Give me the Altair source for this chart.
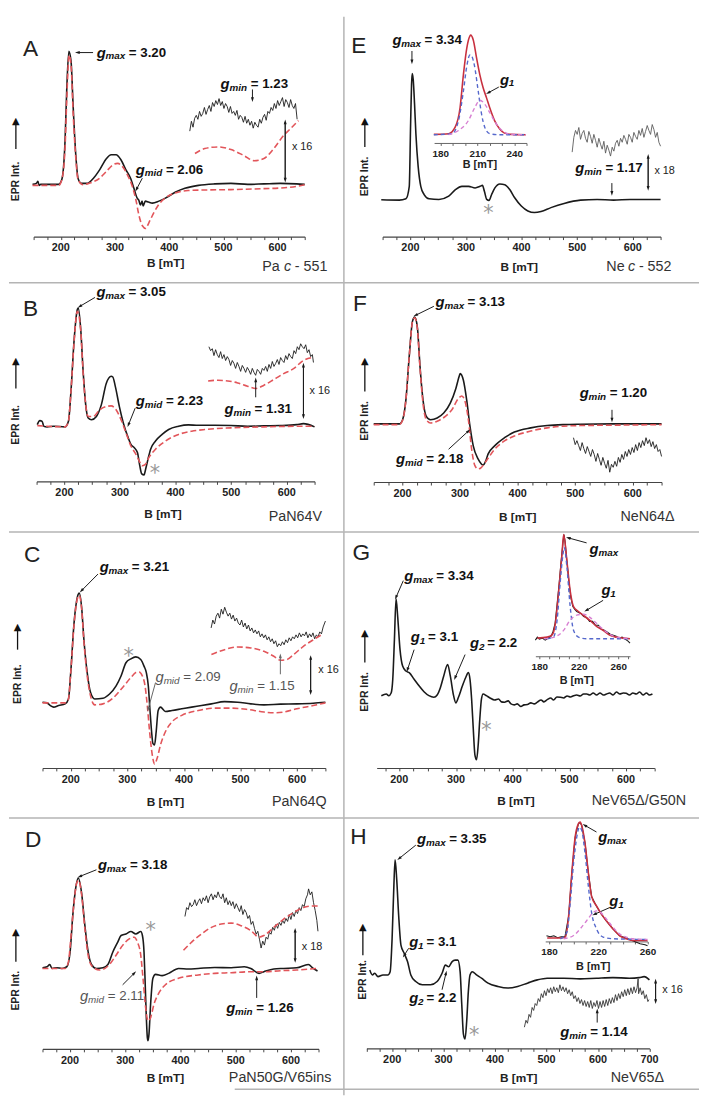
import math
import altair as alt
import pandas as pd

FONT = "Liberation Sans"
ONE = pd.DataFrame({"z": [0]})
K = "#1a1a1a"
GR = "#666666"
RED = "#e2555a"
FITRED = "#c8303f"
BLUE = "#5568cc"
PINK = "#d77fd2"
SEP = "#b4b4b4"

# ======================= DATA (B in mT, I in arbitrary units) =======================
# ---- A : Pa c-551
A_B = [148,155,158,160,163,169,196,202,208,211,215,219,223,228,232,238,248,260,272,284,293,302,311,320,329,335,341,344,347,350,352,356,362,369,381,393,411,429,454,484,514,545,575,605,635,650]
A_I = [0,1,3,-1,0,0,0,5,45,95,135,125,78,28,6,1,1,6,15,26,30,30,25,15,6,-4,-14,-16,-21,-17,-22,-17,-18,-19,-17,-14,-8,-4,-1,0.5,1,0,0.5,1,0.5,0]
A_SIM_B = [148,196,202,208,211,215.5,219,223,228,232,241.5,253.6,271.8,284,296,305,314,323,332,338.5,344.5,350.6,356.7,362.7,371.8,381,393,411,435,465.8,514,574.5,605,635,650]
A_SIM_I = [-1,-1,4.7,38,84.7,131,121,71,25,4.7,-0.3,1.3,6.3,13,19.7,21.3,18,9.7,-2,-15.3,-32,-42,-44.7,-38.7,-28.7,-20.3,-13.7,-8.7,-6.3,-5.7,-5.3,-4.3,-3.7,-2,-0.3]
A_X16_B = [438,441,444,447,450,453,456,459,462,465,468,471,474,477,480,483,486,489,492,495,498,501,504,507,510,513,516,519,522,525,528,531,534,537,540,543,546,549,552,555,558,561,564,567,570,573,576,579,582,585,588,591,594,597,600,603,606,609,612,615,618,621,624,627,630,633,636]
A_X16_I = [54,64,58,67,70,66,74,69,72,78,71,76,80,74,83,79,85,81,87,80,84,77,82,79,73,79,72,74,70,75,66,70,68,63,69,62,66,60,64,57,63,60,58,66,62,68,71,65,74,72,78,75,82,77,85,80,84,88,79,86,83,78,86,80,77,82,66]
A_X16SIM_B = [447.6,465.8,490,514,538.5,556.7,574.8,593,611.2,623.3,638.5]
A_X16SIM_I = [31.3,36.3,38,35.3,29,24,26.3,36.3,49.7,56.3,64.7]

# ---- E : Ne c-552
E_B = [147.6,180,192,198,200.4,202.1,203.3,205.1,207.5,209.9,214,218.7,224.7,233.6,251.3,269,281,292.8,304.7,316.5,325.4,329.6,333.1,337.3,341.4,346.1,352,360.9,369.8,378.7,387.6,399.5,411.3,423.1,435,452.8,476.5,506.1,535.8,565.4,595,624.7,650]
E_I = [-0.3,-0.7,0.7,13.3,76.7,116.7,127.7,121.7,96.7,66.7,33.3,13.3,5,0.7,0,3.3,10,13.3,13.3,11.7,13.3,14.3,8.3,0,-1,5,11.7,15.7,15,10,1.7,-6.7,-11.7,-13.3,-12.3,-8.3,-4,-0.7,0,-0.7,0,0,0]
E_X18_B = [491,494,497,500,503,506,509,512,515,518,521,524,527,530,533,536,539,542,545,548,551,554,557,560,563,566,569,572,575,578,581,584,587,590,593,596,599,602,605,608,611,614,617,620,623,626,629,632,635,638,641,644,647,650]
E_X18_I = [48,63,70,66,73,61,67,70,62,58,69,64,57,66,60,53,62,56,51,59,47,55,50,44,53,49,57,60,54,62,58,65,61,56,66,63,58,68,64,61,70,65,72,63,69,75,70,66,76,71,63,68,58,54]
E_FIT_B = [174.8,186.8,192.1,196.1,198.8,201.5,204.1,204.7,206.8,209.5,212.1,214.8,217.5,220.1,224.1,228.1,232.1,237.5,249.4]
E_FIT_I = [0,0.7,7.3,27.3,60.7,87.3,100,100.7,95.7,77.3,60.7,47.3,37.3,27.3,14,5.7,1.3,0,-0.3]
E_C1_B = [174.8,189.5,194.8,198.8,201.5,204.1,204.7,207.6,210.8,213.5,216.1,220.1,226.8,249.4]
E_C1_I = [-0.3,0.7,14,44,69,80.7,80.7,70.7,44,20.7,7.3,0.7,-0.3,-0.3]
E_C2_B = [186.8,194.8,202.8,208.1,212.1,216.1,220.1,225.5,230.8,237.5,249.4]
E_C2_I = [-0.3,4,14,27.3,34.7,30.7,22.3,10.7,3.3,0,-0.3]

# ---- B : PaN64V
B_B = [151.2,155.9,160,163,168.9,180.7,201.4,207.3,212,217.4,223.3,225,229.2,234,238.7,242.8,248.7,257.6,266.4,275.3,284.2,287.1,291.8,298.9,306,313.7,319.6,325.5,331.4,335.6,339.1,343.3,346.2,350.4,355.1,363.9,375.8,387.6,405.3,423,440.8,470.3,499.9,529.4,559,588.5,618,629.9,650]
B_I = [1,5,4.3,-0.7,-1.3,-0.7,-1.3,4.3,36,86,117.7,119.3,99.3,52.7,19.3,7.7,6,9.3,21,42.7,50,49.3,39.3,19.3,2.7,-10.7,-19,-22.3,-27.3,-40.7,-49,-50,-44,-34,-24,-15.7,-9,-4,-0.7,0.7,0.3,0.3,0,-0.7,-0.3,0,1,2,-1.3]
B_SIM_B = [151.2,201.4,207.3,212,217.4,223.3,229.2,234,238.7,242.8,251.7,263.5,275.3,284.2,293,301.9,310.8,319.6,328.5,334.4,340.3,346.2,352.1,363.9,381.7,405.3,429,452.6,499.9,559,618,650]
B_SIM_I = [0,-1.3,4.3,36,84.3,116,97.7,51,19.3,9.3,9.3,16,19.3,20,16,6,-7.3,-20.7,-29,-35.7,-40.7,-39,-32.3,-24,-15.7,-9,-5.7,-4,-2.3,-1.3,-0.7,-0.7]
B_X16_B = [460,463,466,469,472,475,478,481,484,487,490,493,496,499,502,505,508,511,514,517,520,523,526,529,532,535,538,541,544,547,550,553,556,559,562,565,568,571,574,577,580,583,586,589,592,595,598,601,604,607,610,613,616,619,622,625,628,631,634,637,640,643,646,648]
B_X16_I = [80,76,78,71,77,72,69,75,68,72,66,70,67,61,66,63,58,64,60,55,61,58,54,59,56,52,58,54,51,57,55,52,58,56,60,55,62,58,65,60,63,67,62,69,66,64,71,67,73,70,68,76,73,80,77,83,80,78,82,74,77,70,72,64]
B_X16SIM_B = [458.5,476.2,494,511.7,529.4,544.2,559,576.7,594.4,612.2,629.9,647.6]
B_X16SIM_I = [45.3,46,45.3,43.3,40,37.7,41,46.7,52.7,57.7,66,69.3]

# ---- F : NeN64Δ
F_B = [150,194.5,200.2,205.9,211.6,217.4,221.3,225.9,230.5,235.6,241.3,248.7,260.2,271.6,283,292.7,299,300.1,305.8,311.5,317.2,322.9,331.5,340.1,344.1,348.6,360,377.2,394.3,422.8,451.4,479.9,508.4,565.5,622.6,650]
F_I = [0,0,4.3,24.3,67.7,104.3,108.3,97.7,57.7,24.3,7.7,4.3,6,11,21,36,49.3,51,44.3,24.3,-2.3,-22.3,-35.7,-41.7,-38.3,-30.7,-22.3,-14,-8.3,-4,-1.7,-0.7,-0.3,0,0,0]
F_SIM_B = [150,194.5,200.2,205.9,211.6,217.4,221.3,225.9,230.5,235.6,241.3,248.7,260.2,274.4,285.8,297.3,303,308.7,314.4,320.1,325.8,331.5,337.2,345.8,360,377.2,394.3,422.8,451.4,479.9,508.4,565.5,650]
F_SIM_I = [-0.7,-0.7,3.7,24.3,67.7,103.7,107.7,96,56,21,4.3,1,2.7,7.7,14.3,26,28.3,22.7,4.3,-25.7,-42.3,-45.7,-44,-37.3,-25.7,-17.3,-12.3,-7.3,-4,-2.3,-1.7,-1.3,-0.7]
F_ZOOM_B = [497,500,503,506,509,512,515,518,521,524,527,530,533,536,539,542,545,548,551,554,557,560,563,566,569,572,575,578,581,584,587,590,593,596,599,602,605,608,611,614,617,620,623,626,629,632,635,638,641,644,647,650]
F_ZOOM_I = [-14,-21,-17,-22,-27,-19,-25,-30,-23,-28,-33,-26,-31,-38,-30,-36,-42,-34,-40,-45,-37,-49,-41,-44,-38,-43,-34,-39,-31,-36,-28,-33,-26,-31,-24,-29,-21,-27,-19,-24,-17,-22,-14,-20,-16,-23,-18,-25,-21,-28,-26,-33]

# ---- C : PaN64Q
C_B = [150,158.1,163.9,169.7,178.5,190.1,195.9,199.9,205.7,211.6,215,219.1,223.2,229,234.8,242.3,256.9,268.5,280.1,288.8,297.5,306.2,314.9,323.6,329.4,333.5,337,339.9,342.8,345.1,348,350.9,354.4,358.5,367.2,378.8,396.2,413.6,431.1,448.5,471.7,494.9,518.2,541.4,570.5,599.5,628.5,650]
C_I = [0.7,0,-2.7,-4.3,-2.7,-1,4,30.7,80.7,107.3,111.3,97.3,64,30.7,10.7,4,4.7,9,17.3,27.3,40.7,44.7,46.7,44,37.3,30.7,17.3,-6.7,-29.3,-41,-42.7,-29.3,-7.7,-4.3,-8.7,-7.7,-6,-4.3,-2.7,-1,1.3,0.7,-1,-2,-1.3,-1,-0.3,0.7]
C_SIM_B = [150,190.1,195.9,199.9,205.7,211.6,215,219.1,223.2,229,234.8,242.3,256.9,274.3,291.7,306.2,314.9,320.7,326.5,331.2,335.2,339.3,344,348,352.7,358.5,367.2,378.8,396.2,425.3,454.3,483.3,512.4,541.4,558.8,576.2,599.5,628.5,650]
C_SIM_I = [0,0,4,30.7,79,105.7,109,95.7,62.3,27.3,7.3,-2,-1,4.7,15.7,25.7,30.7,31.3,27.3,17.3,-2.7,-29.3,-52.7,-62,-56,-42.7,-29.3,-19.3,-12.7,-7.7,-5.3,-5.3,-6.7,-9.3,-10,-9.3,-6,-2.7,0]
C_X16_B = [448,451,454,457,460,463,466,469,472,475,478,481,484,487,490,493,496,499,502,505,508,511,514,517,520,523,526,529,532,535,538,541,544,547,550,553,556,559,562,565,568,571,574,577,580,583,586,589,592,595,598,601,604,607,610,613,616,619,622,625,628,631,634,637,640,643,646,650]
C_X16_I = [76,84,80,88,91,86,95,90,97,92,88,91,85,89,83,86,81,79,84,77,81,75,79,73,76,71,74,70,73,67,70,66,69,64,67,62,65,60,63,57,60,58,62,59,64,61,66,63,67,65,69,66,71,67,70,68,72,66,70,67,71,65,69,67,72,70,77,83]
C_X16SIM_B = [448.5,471.7,494.9,518.2,541.4,558.8,570.5,582,593.7,611.1,628.5,643]
C_X16SIM_I = [49,54,56.7,55.7,52.3,47.3,43.3,44,49,57.3,64,69]

# ---- G : NeV65Δ/G50N
G_B = [168.2,177,181.4,185.5,188.4,191.3,194.2,197.1,201.2,205.8,211.6,217.4,226.1,234.8,243.5,252.2,260.9,266.7,272.5,278.3,285.2,289.9,295.7,299.7,304.3,311.3,317.1,321.7,324.6,327.5,330.4,333.3,336.2,339.1,342,344.9,347.8,
       353.6,360,368.1,375,380,385.5,392,397,402.9,408,414.5,420,426.1,432,438,443.5,450,455,460.9,467,472,478,484.1,490,496,502,507.4,513,519,525,530.6,536,542,548,554,560,565.4,571,577,583,589,595,600.1,606,612,618,624,630,636,641,646.5]
G_I = [-0.7,1,-0.7,2,16,56,97.7,79.3,46,29.3,24.3,22.7,16,9.3,3.3,-0.7,-2.3,0,7.7,19.3,31,19.3,-0.7,-8,-2.3,9.3,17.7,22.7,16,-4,-34,-60.7,-65.7,-50.7,-24,-4,1,
       -0.7,-3,-5,-4,-7,-7.3,-6,-9,-10,-9,-11.7,-10,-9.7,-8,-9,-7.3,-5,-7,-4.7,-3,-5,-2,-2.3,-3,-1,-2,-0.7,0,-1,1,1,0,2,0,2,0,1,2,0,3,1,2,1.7,0,2,1,3,0,2,0,1]
G_FIT_B = [178,188,193,196.3,199.7,203,204.7,208,211.3,214.7,219.7,224.7,231.3,238,244.7,251.3,258,264.7,272]
G_FIT_I = [1,2,4.3,16,49,86,106,79,49,33,28,24,19,13,9,4,2,1,0.3]
G_C1_B = [188,194.7,198,201.3,204,205.3,208,211.3,214.7,219.7,228,272]
G_C1_I = [0.3,2.7,19,59,86,93,73,33,9,2,0.3,0.3]
G_C2_B = [185,195,205,211.3,218,224.7,231.3,238,244.7,251.3,258,271]
G_C2_I = [0.3,2,9.3,19.3,24.3,25.3,22,16,10,5,2,0.7]
G_INEXP_B = [176,178,180,183,186,189,192,194,196,198,200,202,204,205,206,208,210,212,214,216,218,220,222,225,228,231,234,237,240,243,246,249,252,255,258,261,264,267,270,272]
G_INEXP_I = [-1,2,0,1,-1,1,3,8,16,35,55,78,98,106,100,79,58,42,33,30,28,27,26,23,22,18,18,14,14,10,9,7,5,4,3,1,2,0,-2,-4]

# ---- D : PaN50G/V65ins
D_B = [150,158.3,163.1,167.3,176.2,185.1,194,200,204.8,210.7,214.9,220.8,226.8,232.7,238.7,247.6,259.5,268.5,277.4,286.3,292.3,301.2,310.1,319,328,331,333.9,335.7,338.1,339.9,341.1,342.9,345.8,350,354.8,366.7,378.6,396.4,414.3,432.1,461.9,491.7,515.5,527.4,542.3,551.2,569,586.9,610.7,631.5,640.5,648.2]
D_I = [0,1,3.3,-0.7,0,-0.7,1,16,52.7,82.7,91,76,42.7,16,3.3,-0.7,0,3.3,16,26,32.7,34.3,36.7,34.3,36.7,32.7,16,-10.7,-50.7,-70.7,-74,-67.3,-37.3,-10.7,-6.7,-8,-5.7,-0.7,-1.3,-0.7,0.3,0,1,-0.7,-5.7,-4,-1.3,-0.7,0,3.3,-0.7,-3.3]
D_SIM_B = [150,191.1,197,201.2,207.1,211.9,215.5,220.8,226.8,232.7,240.5,253.6,271.4,283.3,295.2,307.1,316,322,328,332.1,336.9,341.1,345.8,351.8,360.7,372.6,396.4,432.1,461.9,491.7,527.4,551.2,581,610.7,648.2]
D_SIM_I = [-0.7,-0.7,6,29.3,66,86,88.7,74.3,39.3,12.7,1,-2.3,3.3,12.7,22.7,29.3,31,26,12.7,-10.7,-40.7,-54,-50.7,-37.3,-25.7,-17.3,-10.7,-7.3,-5.7,-5,-4,-4,-3,-2.3,-0.7]
D_X18_B = [408,411,414,417,420,423,426,429,432,435,438,441,444,447,450,453,456,459,462,465,468,471,474,477,480,483,486,489,492,495,498,501,504,507,510,513,516,519,522,525,528,531,534,537,540,543,546,549,552,555,558,561,564,567,570,573,576,579,582,585,588,591,594,597,600,603,606,609,612,615,618,621,624,627,630,632,635,638,641,644,647,649]
D_X18_I = [52,61,59,66,62,64,69,63,67,70,65,71,68,73,66,72,75,69,74,71,77,72,70,75,66,71,64,68,63,67,60,65,61,57,63,54,59,56,50,53,44,47,40,34,37,29,20,27,23,31,29,36,34,41,38,44,40,46,43,48,45,50,47,54,49,56,52,58,55,61,58,64,62,70,74,80,74,77,66,58,48,37]
D_X18SIM_B = [405.4,420.2,438.1,456,473.8,491.7,509.5,527.4,542.3,551.2,569,586.9,604.8,622.6,640.5,649.4]
D_X18SIM_I = [17.7,26,34.3,41,44.3,45.3,42.7,37.7,31,32.7,41,49.3,56,61,62.7,62.7]

# ---- H : NeV65Δ
H_B = [156.5,161.6,166.1,172.5,182.1,191.6,196.1,199.9,203.1,205.7,208.9,212.7,217.2,223.6,230,236.3,245.9,258.7,274.6,287.4,297,303.4,309.8,316.2,322.5,327.7,332.1,335.3,338.5,341.7,344.9,348.1,351.3,355.7,364,373.6,386.4,405.6,424.7,443.9,463,482.2,501.3,533.3,565.2,597.1,629,661,680.1,689.7,700]
H_I = [5,0,1.7,-1.7,0,0,3.3,36.7,86.7,116.7,96.7,60,30,21.7,13.3,0,-6.7,-10,-10,-6.7,1.7,10,8.3,13.3,15,15,3.3,-30,-60,-65,-46.7,-16.7,0,3.3,0,-3.3,-8.3,-11.7,-13.3,-11.7,-8.3,-5,-3.3,-3.3,-4,-3.3,-2.7,-3.3,-2.7,-1.7,-5]
H_X16_B = [457,460,463,466,469,472,475,478,481,484,487,490,493,496,499,502,505,508,511,514,517,520,523,526,529,532,535,538,541,544,547,550,553,556,559,562,565,568,571,574,577,580,583,586,589,592,595,598,601,604,607,610,613,616,619,622,625,628,631,634,637,640,643,646,649,652,655,658,661,664,667,670,673,676,678,679,682,685,688,691,694,697,699]
H_X16_I = [-53,-46,-49,-40,-43,-33,-36,-29,-31,-24,-27,-19,-23,-16,-21,-14,-18,-13,-19,-12,-17,-13,-18,-10,-16,-12,-17,-13,-19,-15,-21,-17,-24,-21,-27,-23,-29,-25,-31,-26,-32,-27,-33,-26,-34,-28,-32,-26,-34,-27,-33,-26,-32,-25,-31,-24,-29,-23,-28,-20,-26,-19,-24,-17,-22,-15,-21,-14,-20,-13,-19,-12,-18,-13,-4,-19,-13,-20,-16,-24,-20,-27,-25]
H_FIT_B = [178.6,189.3,193.3,196,198.6,201.3,204,205.3,206.6,209.3,212,214.6,218.6,222.6,226.6,232,237.3,242.6,248,253.3,260]
H_FIT_I = [0.7,0.7,1.7,23.3,66.7,103.3,116.7,118.3,115,96.7,66.7,43.3,33.3,25,18.3,10,3.3,0,-1.7,-1.7,-1.7]
H_C1_B = [189.3,194.6,197.3,200,202.6,204.8,206.6,209.3,212,214.6,218.6,224,232,260]
H_C1_I = [0,6.7,36.7,76.7,103.3,113.3,110,86.7,53.3,26.7,10,1.7,0,-0.7]
H_C2_B = [192,200,205.3,210.6,216,218.6,222.6,226.6,232,237.3,242.6,248,260]
H_C2_I = [0,3.3,10,18.3,26.7,28.3,26,20,11.7,5,1.7,0,-0.7]
H_INEXP_B = [178,181,184,187,190,193,196,198.6,201.3,204,205.3,206.6,209.3,212,214.6,218.6,222.6,226.6,232,237.3,242,246,250,254,258,260]
H_INEXP_I = [3,2,3,1,2,2,23,67,103,117,118,115,97,67,43,33,25,18,10,3,1,-1,-3,-5,-6,-7]

# tick values and tick labels
T650 = [150,175,200,225,250,275,300,325,350,375,400,425,450,475,500,525,550,575,600,625,650]
TG = [175,200,225,250,275,300,325,350,375,400,425,450,475,500,525,550,575,600,625,650]
T700 = [150,175,200,225,250,275,300,325,350,375,400,425,450,475,500,525,550,575,600,625,650,675,700]
TL650 = [200,300,400,500,600]
TL700 = [200,300,400,500,600,700]
TE_IN = [180,190,200,210,220,230,240,250]
TG_IN = [180,190,200,210,220,230,240,250,260,270]
TH_IN = [180,190,200,210,220,230,240,250,260]

# ======================= PANEL CONFIG (layout / annotations) =======================
CFG = {
    "A": dict(W=339, H=269, xd=[150, 650], xr=[25, 300], base=170, axis_y=223, ticks=T650, tl=TL650,
              exp=(A_B, A_I), sim=(A_SIM_B, A_SIM_I), zexp=(A_X16_B, A_X16_I), zsim=(A_X16SIM_B, A_X16SIM_I), zcol=K,
              labels=[(266.4, 133.7, "max", " = 3.20", "b"), (494.9, 102, "min", " = 1.23", "b"), (338.5, 15, "mid", " = 2.06", "b")],
              arrows=[(259.6, 133.7, 231.3, 133.7, K), (350.5, 6.3, 340, -4.7, K), (553.6, 96.3, 553.6, 86.3, K)],
              darrows=[(614, 63, 4.7)], notes=[(626.4, 38, "x 16")], stars=[],
              letter=("A", 22, 32.5), epr=(7, 167, 134, 102), btitle=(159, 250),
              sample=("Pa", "c", "- 551", 257, 254), top_line=False, left_line=False, bottom=None),
    "E": dict(W=361, H=269, xd=[150, 650], xr=[40, 322], base=185.3, axis_y=223, ticks=T650, tl=TL650,
              exp=(E_B, E_I), zexp=(E_X18_B, E_X18_I), zcol="#5a5a5a",
              labels=[(167.8, 161.6, "max", " = 3.34", "b"), (361, 121.6, "1", "", "b"), (496.7, 31.6, "min", " = 1.17", "b")],
              arrows=[(202.8, 150.6, 202.8, 140, K), (359, 114, 340.3, 108.3, K), (562.4, 16.6, 562.4, 6.6, K)],
              darrows=[(627.7, 43.3, 11.6)], notes=[(638.9, 29.3, "x 18")], stars=[(340.2, -10)],
              letter=("E", 16, 29.5), epr=(22, 162, 132, 102), btitle=(178.7, 253.7),
              sample=("Ne", "c", "- 552", 267, 253.7), top_line=False, left_line=True, bottom=None,
              inset=dict(xd=[175, 250], xr=[92.25, 186], base=119.3, axis_y=128, ticks=TE_IN, step=30,
                         fit=(E_FIT_B, E_FIT_I), c1=(E_C1_B, E_C1_I), c2=(E_C2_B, E_C2_I), iexp=None,
                         btitle=(138.7, 150))),
    "B": dict(W=339, H=253, xd=[150, 650], xr=[28, 310], base=145.7, axis_y=202.3, ticks=T650, tl=TL650,
              exp=(B_B, B_I), sim=(B_SIM_B, B_SIM_I), zexp=(B_X16_B, B_X16_I), zsim=(B_X16SIM_B, B_X16SIM_I), zcol=K,
              labels=[(257.6, 135.4, "max", " = 3.05", "b"), (328.5, 24.4, "mid", " = 2.23", "b"), (488.1, 16.7, "min", " = 1.31", "b")],
              arrows=[(255, 130, 228, 121, K), (327.3, 17.7, 315.4, 1, K), (544.1, 28.7, 544.1, 46, K)],
              darrows=[(630, 61, 9.4)], notes=[(641.1, 35.4, "x 16")], stars=[(362.8, -44.6)],
              letter=("B", 22, 27.5), epr=(7, 145, 108, 76), btitle=(156.3, 235.3),
              sample=("PaN64V", 290.5, 238), top_line=True, left_line=False, bottom=None),
    "F": dict(W=361, H=253, xd=[150, 650], xr=[31, 323], base=144, axis_y=203, ticks=T650, tl=TL650,
              exp=(F_B, F_I), sim=(F_SIM_B, F_SIM_I), zexp=(F_ZOOM_B, F_ZOOM_I), zcol=K,
              labels=[(257.4, 123.7, "max", " = 3.13", "b"), (188.9, -35.7, "mid", " = 2.18", "b"), (507.9, 31, "min", " = 1.20", "b")],
              arrows=[(254.5, 119.3, 223.2, 110.3, K), (280.1, -25.7, 314.4, -7.3, K), (563.9, 14.3, 563.9, 4.3, K)],
              darrows=[], notes=[], stars=[],
              letter=("F", 17, 22.5), epr=(22, 141, 111, 76), btitle=(177, 238),
              sample=("NeN64Δ", 308.7, 238), top_line=True, left_line=True, bottom=None),
    "C": dict(W=339, H=290, xd=[150, 650], xr=[34, 321], base=174, axis_y=240, ticks=T650, tl=TL650,
              exp=(C_B, C_I), sim=(C_SIM_B, C_SIM_I), zexp=(C_X16_B, C_X16_I), zsim=(C_X16SIM_B, C_X16SIM_I), zcol=K,
              labels=[(251, 137.3, "max", " = 3.21", "b"), (349.8, 25.7, "mid", " = 2.09", "n"), (480.5, 17.3, "min", " = 1.15", "n")],
              arrows=[(248.1, 130.7, 219.2, 114, K), (349.8, 20.7, 336.9, -6, GR), (570.4, 29, 570.4, 47.3, GR)],
              darrows=[(623.9, 45.7, 10.7)], notes=[(637.3, 33.3, "x 16")], stars=[(302.1, 51.7)],
              letter=("C", 23.5, 24.5), epr=(8.7, 155, 120, 93), btitle=(158.7, 275),
              sample=("PaN64Q", 294.5, 275), top_line=True, left_line=False, bottom=None),
    "G": dict(W=361, H=290, xd=[160, 650], xr=[34, 315.75], base=166, axis_y=240, ticks=TG, tl=TL650,
              exp=(G_B, G_I),
              labels=[(208.7, 121, "max", " = 3.34", "b"), (220.3, 58.7, "1", " = 3.1", "b"), (324.7, 52.7, "2", " = 2.2", "b"),
                      (535.7, 147.7, "max", "", "b"), (556.5, 106, "1", "", "b")],
              arrows=[(207, 116, 194.3, 99.3, K), (226.1, 46, 214.5, 26, K), (316, 41, 298.6, 17.7, K),
                      (530.4, 154.3, 498.6, 159.3, K), (559.5, 96, 530.4, 86, K)],
              darrows=[], notes=[], stars=[(353.6, -31.3)],
              letter=("G", 18.5, 22.5), epr=(22, 163, 133, 99), btitle=(175.3, 273.3),
              sample=("NeV65Δ/G50N", 300, 273.3), top_line=True, left_line=True, bottom=None,
              inset=dict(xd=[176, 272], xr=[195, 291], base=109.3, axis_y=126.7, ticks=TG_IN, step=40,
                         fit=(G_FIT_B, G_FIT_I), c1=(G_C1_B, G_C1_I), c2=(G_C2_B, G_C2_I), iexp=(G_INEXP_B, G_INEXP_I),
                         btitle=(237, 152))),
    "D": dict(W=339, H=282, xd=[150, 650], xr=[34, 314], base=152.7, axis_y=235, ticks=T650, tl=TL650,
              exp=(D_B, D_I), sim=(D_SIM_B, D_SIM_I), zexp=(D_X18_B, D_X18_I), zsim=(D_X18SIM_B, D_X18SIM_I), zcol=K,
              labels=[(250.5, 104.4, "max", " = 3.18", "b"), (217.9, -29, "mid", " = 2.11", "n"), (482.7, -40.6, "min", " = 1.26", "b")],
              arrows=[(247.7, 99.4, 217.9, 92.7, K), (295.2, -17.3, 316.1, -5.6, K), (538, -30.6, 538, -10.6, K)],
              darrows=[(607.7, 37.7, 7.7)], notes=[(619.6, 21, "x 18")], stars=[(345.9, 42.7)],
              letter=("D", 24.5, 23.5), epr=(7, 176, 146.7, 112), btitle=(158.7, 265),
              sample=("PaN50G/V65ins", 275, 265), top_line=True, left_line=False, bottom=(229, 339, 276)),
    "H": dict(W=361, H=282, xd=[150, 700], xr=[23.6, 310.7], base=160, axis_y=234.5, ticks=T700, tl=TL700,
              exp=(H_B, H_I), zexp=(H_X16_B, H_X16_I), zcol="#333333",
              labels=[(248.5, 138.3, "max", " = 3.35", "b"), (233.1, 33.3, "1", " = 3.1", "b"), (233.1, -23.3, "2", " = 2.2", "b"),
                      (600.4, 140, "max", "", "b"), (622, 75, "1", "", "b"), (526.8, -58.3, "min", " = 1.14", "b")],
              arrows=[(246, 131.7, 214, 118.3, K), (232, 27, 223.6, 20, K), (297, -15, 304.6, 1.7, K),
                      (597.1, 145, 574.7, 151.7, K), (622.6, 68.3, 593.9, 61.7, K), (598.5, -48.3, 598.5, -36.7, K)],
              darrows=[(712, -6.7, -26.7)], notes=[(724.9, -15, "x 16")], stars=[(359.6, -56.7)],
              letter=("H", 15.5, 20.5), epr=(20, 165, 140, 107), btitle=(178, 265),
              sample=("NeV65Δ", 298.5, 265), top_line=True, left_line=True, bottom=(0, 361, 276),
              inset=dict(xd=[177, 260], xr=[205, 308.75], base=123.3, axis_y=126, ticks=TH_IN, step=40,
                         fit=(H_FIT_B, H_FIT_I), c1=(H_C1_B, H_C1_I), c2=(H_C2_B, H_C2_I), iexp=(H_INEXP_B, H_INEXP_I),
                         btitle=(253.7, 152))),
}

HEAD = "M0,-1L0.55,0.75L-0.55,0.75Z"
GW = {"b": 9.0, "n": 8.2}
SW = {"b": {"max": 23.5, "mid": 21.5, "min": 21.5, "1": 8.5, "2": 8.5},
      "n": {"max": 22.0, "mid": 20.0, "min": 20.0, "1": 8.5, "2": 8.5}}


def df(pair):
    return pd.DataFrame({"B": pair[0], "I": pair[1]})


def vtext(text, x, y, size, weight="normal", style="normal", color="#222", align="center", angle=0, font=FONT):
    return alt.Chart(ONE).mark_text(text=text, fontSize=size, fontWeight=weight, fontStyle=style, color=color,
                                    align=align, baseline="middle", angle=angle, font=font).encode(
        x=alt.value(x), y=alt.value(y))


def vrule(x1, x2, y1, y2, color=SEP, width=1.5):
    return alt.Chart(ONE).mark_rule(color=color, strokeWidth=width).encode(
        x=alt.value(x1), x2=alt.value(x2), y=alt.value(y1), y2=alt.value(y2))


def build(key):
    p = CFG[key]
    W, H = p["W"], p["H"]
    xs = alt.Scale(domain=p["xd"], range=p["xr"], nice=False, zero=False)
    # default y range is [H, 0]; this domain gives one unit per pixel with 0 on the baseline
    ys = alt.Scale(domain=[p["base"] - H, p["base"]], nice=False, zero=False)
    k = (p["xr"][1] - p["xr"][0]) / (p["xd"][1] - p["xd"][0])

    def X(f="B"):
        return alt.X(f + ":Q", scale=xs, axis=None)

    def Y(f="I"):
        return alt.Y(f + ":Q", scale=ys, axis=None)

    # --- group 1: experimental trace carrying the B axis (ticks + line)
    axis = alt.Axis(orient="bottom", offset=p["axis_y"] - H, values=p["ticks"], labels=False, title="",
                    tickSize=3, tickWidth=1, tickColor="#444", domainColor="#444", domainWidth=1.1,
                    grid=False)
    g1 = alt.layer(alt.Chart(df(p["exp"])).mark_line(color=K, strokeWidth=1.6, interpolate="monotone").encode(
        x=alt.X("B:Q", scale=xs, axis=axis), y=Y()))

    # --- group 2: everything else
    L = []
    if p["left_line"]:
        L.append(vrule(0.75, 0.75, 0, H))
    if p["top_line"]:
        L.append(vrule(0, W, 0.75, 0.75))
    if p["bottom"]:
        b = p["bottom"]
        L.append(vrule(b[0], b[1], b[2], b[2]))
    tl = pd.DataFrame({"B": p["tl"]})
    L.append(alt.Chart(tl).mark_text(font=FONT, fontSize=11, fontWeight="bold", color="#222", baseline="middle").encode(
        x=X(), y=alt.value(p["axis_y"] + 12), text=alt.Text("B:Q", format="d")))
    if "zexp" in p:
        L.append(alt.Chart(df(p["zexp"])).mark_line(color=p["zcol"], strokeWidth=0.9).encode(x=X(), y=Y()))
    if "sim" in p:
        L.append(alt.Chart(df(p["sim"])).mark_line(color=RED, strokeWidth=1.6, strokeDash=[6, 3],
                                                   interpolate="monotone").encode(x=X(), y=Y()))
    if "zsim" in p:
        L.append(alt.Chart(df(p["zsim"])).mark_line(color=RED, strokeWidth=1.6, strokeDash=[6, 3],
                                                    interpolate="monotone").encode(x=X(), y=Y()))

    rows = []
    for (b1, i1, b2, i2, c) in p["arrows"]:
        ang = math.degrees(math.atan2((b2 - b1) * k, (i2 - i1))) % 360
        rows.append(dict(B1=b1, I1=i1, B2=b2, I2=i2, c=c, ang=ang))
    for (b, i1, i2) in p["darrows"]:
        rows.append(dict(B1=b, I1=i2, B2=b, I2=i1, c=K, ang=0.0))
        rows.append(dict(B1=b, I1=i1, B2=b, I2=i2, c=K, ang=180.0))
    if rows:
        ad = pd.DataFrame(rows)
        L.append(alt.Chart(ad).mark_rule(strokeWidth=1).encode(
            x=X("B1"), x2="B2:Q", y=Y("I1"), y2="I2:Q", color=alt.Color("c:N", scale=None)))
        L.append(alt.Chart(ad).mark_point(shape=HEAD, filled=True, size=30, opacity=1).encode(
            x=X("B2"), y=Y("I2"), angle=alt.Angle("ang:Q", scale=None), color=alt.Color("c:N", scale=None)))

    for sty in ("b", "n"):
        g_rows, s_rows, r_rows = [], [], []
        for (b, i, sub, rest, st) in p["labels"]:
            if st != sty:
                continue
            g_rows.append(dict(B=b, I=i, t="g"))
            s_rows.append(dict(B=b + GW[sty] / k, I=i, t=sub))
            if rest:
                r_rows.append(dict(B=b + (GW[sty] + SW[sty][sub]) / k, I=i, t=rest.strip()))
        if not g_rows:
            continue
        wt = "bold" if sty == "b" else "normal"
        col = "#111" if sty == "b" else "#555"
        L.append(alt.Chart(pd.DataFrame(g_rows)).mark_text(align="left", baseline="middle", font=FONT, fontSize=15,
                                                           fontStyle="italic", fontWeight=wt, color=col).encode(
            x=X(), y=Y(), text="t:N"))
        L.append(alt.Chart(pd.DataFrame(s_rows)).mark_text(align="left", baseline="middle", font=FONT, fontSize=10,
                                                           fontStyle="italic", fontWeight=wt, color=col, dy=4).encode(
            x=X(), y=Y(), text="t:N"))
        if r_rows:
            L.append(alt.Chart(pd.DataFrame(r_rows)).mark_text(align="left", baseline="middle", font=FONT,
                                                               fontSize=13.5, fontWeight=wt, color=col).encode(
                x=X(), y=Y(), text="t:N"))
    if p["notes"]:
        nd = pd.DataFrame([dict(B=b, I=i, t=t) for (b, i, t) in p["notes"]])
        L.append(alt.Chart(nd).mark_text(align="left", baseline="middle", font=FONT, fontSize=11, color="#222").encode(
            x=X(), y=Y(), text="t:N"))
    if p["stars"]:
        sd = pd.DataFrame([dict(B=b, I=i) for (b, i) in p["stars"]])
        L.append(alt.Chart(sd).mark_text(text="*", font="DejaVu Sans", fontSize=21, color="#999", baseline="middle",
                                         dy=5).encode(x=X(), y=Y()))

    lt, lx, ly = p["letter"]
    L.append(vtext(lt, lx, ly, 23, color="#222"))
    ex, ey, ay0, atip = p["epr"]
    L.append(vtext("EPR Int.", ex, ey, 10.5, weight="bold", angle=270))
    L.append(vrule(ex, ex, ay0, atip + 6, color="#111", width=1.3))
    L.append(vtext("▲", ex, atip + 4, 10, color="#111", font="DejaVu Sans"))
    bx, by = p["btitle"]
    L.append(vtext("B [mT]", bx, by, 12, weight="bold"))
    s = p["sample"]
    if len(s) == 5:
        a, c, d, x0, y0 = s
        L.append(vtext(a, x0, y0, 14.5, color="#333", align="left"))
        L.append(vtext(c, x0 + 22, y0, 14.5, style="italic", color="#333", align="left"))
        L.append(vtext(d, x0 + 33, y0, 14.5, color="#333", align="left"))
    else:
        t, x0, y0 = s
        L.append(vtext(t, x0, y0, 14.5, color="#333"))

    groups = [g1, alt.layer(*L)]

    if "inset" in p:
        q = p["inset"]
        ixs = alt.Scale(domain=q["xd"], range=q["xr"], nice=False, zero=False)
        iys = alt.Scale(domain=[q["base"] - H, q["base"]], nice=False, zero=False)
        iaxis = alt.Axis(orient="bottom", offset=q["axis_y"] - H, values=q["ticks"],
                         labelExpr="(datum.value - 180) %% %d === 0 ? datum.label : ''" % q["step"], title="",
                         tickSize=2.5, tickWidth=1, tickColor="#666", domainColor="#666", domainWidth=1,
                         labelFont=FONT, labelFontSize=10, labelFontWeight="bold", labelColor="#222",
                         labelPadding=3, grid=False, labelOverlap=False, labelFlush=False)
        IL = []
        if q["iexp"]:
            IL.append(alt.Chart(df(q["iexp"])).mark_line(color=K, strokeWidth=1.1).encode(
                x=alt.X("B:Q", scale=ixs), y=alt.Y("I:Q", scale=iys, axis=None)))
        IL.append(alt.Chart(df(q["fit"])).mark_line(color=FITRED, strokeWidth=1.6, interpolate="monotone").encode(
            x=alt.X("B:Q", scale=ixs, axis=iaxis), y=alt.Y("I:Q", scale=iys, axis=None)))
        IL.append(alt.Chart(df(q["c1"])).mark_line(color=BLUE, strokeWidth=1.4, strokeDash=[4, 3],
                                                   interpolate="monotone").encode(
            x=alt.X("B:Q", scale=ixs), y=alt.Y("I:Q", scale=iys, axis=None)))
        IL.append(alt.Chart(df(q["c2"])).mark_line(color=PINK, strokeWidth=1.4, strokeDash=[4, 3],
                                                   interpolate="monotone").encode(
            x=alt.X("B:Q", scale=ixs), y=alt.Y("I:Q", scale=iys, axis=None)))
        tx, ty = q["btitle"]
        IL.append(vtext("B [mT]", tx, ty, 11, weight="bold"))
        groups.append(alt.layer(*IL))

    return alt.layer(*groups).resolve_scale(x="independent", y="independent").properties(width=W, height=H)


panels = [build(key) for key in ["A", "E", "B", "F", "C", "G", "D", "H"]]
chart = alt.concat(*panels, columns=2, spacing=0, bounds="flush", align="each",
                   padding=0, background="white").configure_view(stroke=None)
chart.save("out.html", embed_options={"renderer": "svg", "actions": False})
